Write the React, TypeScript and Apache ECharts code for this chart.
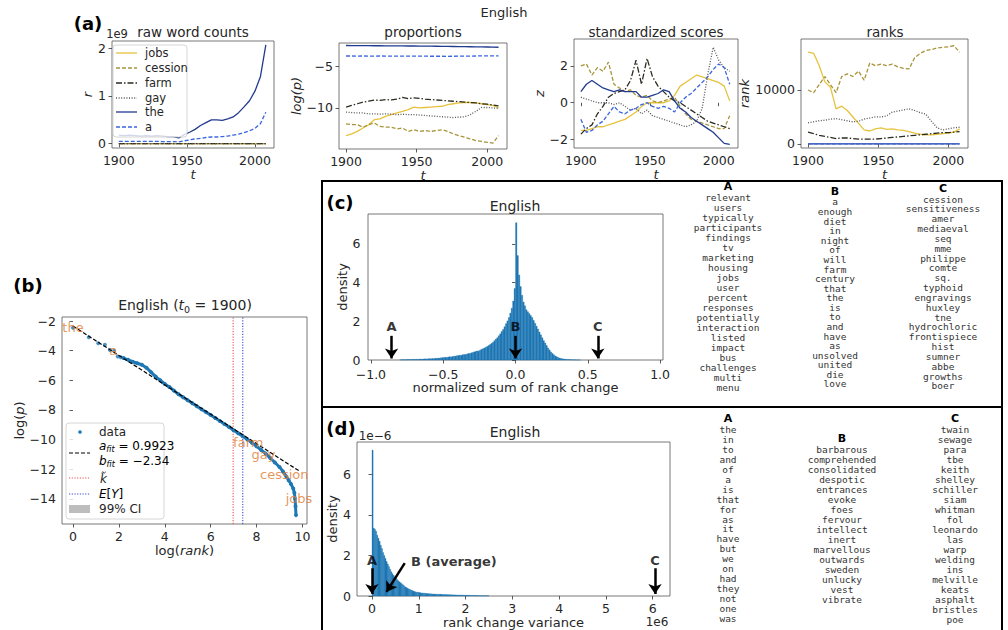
import React, { useEffect, useRef } from "react";
import * as echarts from "echarts";

const FONT = "DejaVu Sans";
const MONO = "DejaVu Sans Mono";

// ---------- (a) time series ----------
const YEARS = [1900,1904,1908,1912,1916,1920,1924,1928,1932,1936,1940,1944,1948,1952,1956,1960,1964,1968,1972,1976,1980,1984,1988,1992,1996,2000,2004,2008];
const WORDS = ["jobs", "cession", "farm", "gay", "the", "a"];

const RAW_JOBS = [0.000001,0.000001,0.000001,0.000002,0.000002,0.000003,0.000003,0.000004,0.000004,0.000005,0.000006,0.000006,0.00001,0.000013,0.000016,0.00002,0.000024,0.00003,0.000035,0.00004,0.000045,0.00005,0.00006,0.00007,0.00008,0.0001,0.00012,0.00018];
const RAW_CESSION = [0.000003,0.000003,0.000003,0.000003,0.000003,0.000004,0.000003,0.000003,0.000003,0.000003,0.000003,0.000002,0.000003,0.000004,0.000005,0.000005,0.000006,0.000007,0.000007,0.000006,0.000006,0.000006,0.000006,0.000007,0.000008,0.000009,0.00001,0.000024];
const RAW_FARM = [0.00009,0.0001,0.0001,0.00011,0.00011,0.00012,0.00012,0.00012,0.00011,0.00012,0.00013,0.0001,0.00016,0.0002,0.00024,0.00028,0.0003,0.00034,0.00033,0.00032,0.00033,0.00035,0.0004,0.00046,0.0005,0.0006,0.00075,0.0011];
const RAW_GAY = [0.00004,0.00004,0.00004,0.00004,0.00004,0.00004,0.00004,0.00004,0.00004,0.00004,0.00004,0.00003,0.00005,0.00006,0.00007,0.00008,0.00009,0.0001,0.0001,0.0001,0.00011,0.00013,0.00018,0.00026,0.00038,0.00045,0.00055,0.00085];
const RAW_THE = [0.18,0.17,0.18,0.17,0.16,0.17,0.16,0.17,0.16,0.15,0.15,0.12,0.19,0.24,0.30,0.38,0.44,0.50,0.50,0.49,0.52,0.56,0.65,0.77,0.90,1.10,1.40,2.07];
const RAW_A = [0.05,0.05,0.05,0.05,0.05,0.05,0.05,0.05,0.045,0.045,0.045,0.04,0.06,0.08,0.10,0.11,0.13,0.14,0.14,0.15,0.16,0.18,0.20,0.23,0.27,0.32,0.42,0.66];

const LOGP_JOBS = [-13.3,-13.1,-12.8,-12.4,-12.0,-11.4,-11.3,-11.0,-10.8,-10.6,-10.4,-10.2,-9.9,-10.0,-9.95,-9.9,-9.85,-9.8,-9.6,-9.5,-9.4,-9.35,-9.35,-9.4,-9.5,-9.6,-9.7,-10.0];
const LOGP_CESSION = [-11.9,-12.0,-12.0,-12.3,-12.0,-11.8,-12.2,-12.3,-12.3,-12.5,-12.4,-12.8,-12.6,-12.8,-12.7,-12.8,-12.7,-12.6,-12.8,-13.1,-13.3,-13.5,-13.7,-13.9,-14.0,-14.1,-14.2,-13.3];
const LOGP_FARM = [-9.9,-9.7,-9.5,-9.3,-9.2,-9.05,-9.1,-9.0,-9.05,-8.95,-8.75,-8.9,-8.8,-8.85,-8.95,-9.0,-9.05,-9.1,-9.15,-9.2,-9.25,-9.3,-9.35,-9.4,-9.5,-9.55,-9.65,-9.75];
const LOGP_GAY = [-10.5,-10.55,-10.6,-10.6,-10.7,-10.7,-10.75,-10.7,-10.75,-10.8,-10.75,-10.8,-10.8,-10.85,-10.9,-10.95,-11.0,-11.05,-11.1,-11.15,-11.1,-11.05,-10.8,-10.4,-9.95,-9.95,-10.0,-10.05];
const LOGP_THE = [-2.55,-2.56,-2.56,-2.57,-2.57,-2.58,-2.58,-2.59,-2.59,-2.6,-2.6,-2.61,-2.61,-2.62,-2.62,-2.63,-2.64,-2.65,-2.66,-2.67,-2.68,-2.69,-2.7,-2.71,-2.72,-2.73,-2.74,-2.76];
const LOGP_A = [-3.8,-3.8,-3.81,-3.8,-3.81,-3.81,-3.8,-3.81,-3.82,-3.81,-3.82,-3.82,-3.81,-3.82,-3.82,-3.83,-3.83,-3.83,-3.84,-3.83,-3.82,-3.82,-3.81,-3.8,-3.79,-3.79,-3.78,-3.78];

const Z_JOBS = [-1.5,-1.5,-1.4,-1.3,-1.3,-1.2,-1.1,-1.0,-0.9,-0.7,-0.5,-0.2,0.0,0.0,0.0,0.0,0.1,0.4,0.9,1.1,1.3,1.5,1.4,1.3,1.2,1.1,0.9,0.1];
const Z_CESSION = [2.0,2.1,1.5,1.9,1.7,2.2,1.0,0.8,0.6,0.7,0.4,0.3,0.4,0.1,0.0,0.1,0.2,0.3,-0.2,-0.6,-0.9,-1.0,-1.1,-1.2,-1.3,-1.4,-1.4,-0.7];
const Z_FARM = [-1.7,-1.4,-1.2,-0.6,-0.2,0.3,0.5,0.6,0.7,1.2,2.3,1.0,2.4,1.4,0.9,0.6,0.3,0.1,0.0,-0.2,-0.4,-0.6,-0.8,-1.0,-1.1,-1.2,-1.3,-1.4];
const Z_GAY = [0.3,0.2,0.1,0.0,0.0,0.0,-0.1,0.0,-0.2,-0.4,-0.3,-0.6,-0.4,-0.7,-0.8,-0.9,-1.0,-1.1,-1.2,-1.3,-1.2,-1.0,-0.3,1.5,3.0,2.3,1.9,1.7];
const Z_THE = [0.6,1.0,1.2,1.0,0.8,0.7,0.6,0.7,0.6,0.6,0.6,0.3,0.3,0.4,0.5,0.7,0.6,0.1,-0.3,-0.5,-0.8,-1.0,-1.2,-1.4,-1.6,-1.9,-2.2,-2.25];
const Z_A = [-0.9,-1.6,-1.5,-1.2,-1.0,-0.6,-0.2,-0.5,-0.6,-0.4,-0.3,-0.1,0.0,-0.2,-0.3,-0.2,-0.3,-0.5,0.0,0.3,0.5,0.8,1.1,1.4,1.8,2.1,1.9,1.0];

const RANK_JOBS = [17000,16800,14500,11500,10500,6500,7000,6200,5000,3800,2600,2400,2800,3000,2700,2800,2600,2500,2300,2000,1800,1700,1700,1800,1900,2000,2200,2800];
const RANK_CESSION = [10000,9500,11000,12500,11000,9500,12500,13000,12500,13500,11800,15000,14500,14800,14500,14800,14300,14000,13900,16000,16800,17300,17500,17800,17900,18000,18200,17000];
const RANK_FARM = [2200,1900,1600,1400,1200,1000,1100,1100,1000,900,900,900,900,1000,1100,1200,1300,1400,1500,1600,1700,1800,1900,2000,2100,2100,2200,2300];
const RANK_GAY = [3900,4100,4300,4400,4600,4700,4500,4300,4100,4200,4600,4800,5000,5000,5200,5900,6100,6300,6500,6200,5800,5500,4200,3000,2600,2800,3000,3100];
const RANK_THE = [1,1,1,1,1,1,1,1,1,1,1,1,1,1,1,1,1,1,1,1,1,1,1,1,1,1,1,1];
const RANK_A = [5,5,5,5,5,5,5,5,5,5,5,5,5,5,6,6,6,6,6,6,6,5,5,5,5,5,5,5];

// ---------- (b) Zipf ----------
const B_SPARSE = [[0,-2.45],[0.69,-3.1],[1.1,-3.5],[1.39,-3.6],[1.61,-3.95],[1.79,-4.0],[1.95,-4.4],[2.08,-4.45]];
const B_DENSE = [[2.2,-4.5],[2.4,-4.62],[2.6,-4.75],[2.8,-4.85],[3.0,-4.95],[3.2,-5.15],[3.4,-5.45],[3.6,-5.75],[3.8,-6.0],[4.0,-6.25],[4.2,-6.45],[4.4,-6.7],[4.6,-6.95],[4.8,-7.15],[5.0,-7.35],[5.2,-7.55],[5.4,-7.75],[5.6,-7.95],[5.8,-8.15],[6.0,-8.35],[6.2,-8.55],[6.4,-8.75],[6.6,-8.95],[6.8,-9.15],[7.0,-9.37],[7.2,-9.57],[7.4,-9.78],[7.6,-10.0],[7.8,-10.22],[8.0,-10.45],[8.2,-10.7],[8.4,-10.95],[8.6,-11.25],[8.8,-11.55],[9.0,-11.85],[9.15,-12.15],[9.3,-12.5],[9.4,-12.75],[9.5,-13.0],[9.6,-13.3],[9.65,-13.6],[9.68,-14.0],[9.7,-14.5],[9.72,-15.1]];
const B_FIT = [[0,-2.34],[9.85,-12.11]];
const K_TILDE = 6.98;
const E_Y = 7.4;
const B_Y_RANGE = [-15.7, -1.73];
const B_WORD_LABELS = [
  { name: "the", value: [0, -2.47] },
  { name: "a", value: [1.75, -3.96] },
  { name: "farm", value: [7.64, -10.18] },
  { name: "gay", value: [8.3, -10.99] },
  { name: "cession", value: [9.21, -12.34] },
  { name: "jobs", value: [9.85, -13.96] },
];

// ---------- (c) histogram ----------
const HIST_C_START = -0.8;
const HIST_C_WIDTH = 0.01;
const HIST_C = [
  0.01,0.01,0.02,0.01,0.02,0.02,0.03,0.02,0.03,0.03,
  0.03,0.04,0.03,0.04,0.05,0.04,0.05,0.06,0.05,0.06,
  0.07,0.06,0.08,0.07,0.09,0.08,0.10,0.09,0.11,0.12,
  0.13,0.14,0.13,0.15,0.17,0.16,0.18,0.19,0.20,0.22,
  0.23,0.25,0.24,0.27,0.29,0.28,0.31,0.34,0.33,0.37,
  0.39,0.42,0.44,0.47,0.46,0.51,0.55,0.58,0.62,0.66,
  0.70,0.75,0.80,0.86,0.92,1.00,1.08,1.15,1.25,1.35,
  1.48,1.58,1.72,1.88,2.02,2.20,2.42,2.68,3.05,3.70,
  7.10,5.40,4.40,3.80,3.35,3.00,2.80,2.60,2.50,2.40,
  2.30,2.20,2.05,1.90,1.75,1.60,1.45,1.30,1.15,1.00,
  0.88,0.75,0.62,0.52,0.42,0.34,0.27,0.21,0.17,0.13,
  0.10,0.08,0.06,0.05,0.04,0.03,0.025,0.02,0.015,0.012,
  0.010,0.008,0.006,0.005,0.004,
];
const C_MARKS = [
  { name: "A", x: -0.857 },
  { name: "B", x: 0.0 },
  { name: "C", x: 0.569 },
];

// ---------- (d) histogram ----------
const HIST_D_START = 0;
const HIST_D_WIDTH = 0.025;
const HIST_D = [
  7.2,3.35,3.3,3.2,3.0,2.85,2.7,2.5,2.35,2.15,
  2.0,1.85,1.7,1.58,1.45,1.32,1.2,1.1,1.02,0.94,
  0.87,0.81,0.75,0.70,0.65,0.60,0.55,0.50,0.45,0.42,
  0.38,0.35,0.32,0.29,0.27,0.24,0.22,0.20,0.19,0.18,
  0.17,0.16,0.15,0.145,0.14,0.13,0.125,0.12,0.115,0.11,
  0.105,0.10,0.097,0.094,0.09,0.088,0.085,0.083,0.081,0.08,
  0.078,0.075,0.072,0.07,0.067,0.064,0.062,0.06,0.058,0.055,
  0.053,0.051,0.049,0.047,0.045,0.044,0.043,0.042,0.041,0.04,
  0.038,0.036,0.034,0.032,0.03,0.028,0.026,0.024,0.022,0.02,
  0.019,0.018,0.016,0.015,0.014,0.013,0.012,0.011,0.01,0.009,
];
const D_MARKS = [
  { name: "A", x: 0.0 },
  { name: "C", x: 6.05 },
];
const D_B_LABEL = { name: "B (average)", value: [1.75, 1.68] };
const D_B_ARROW = [[0.7, 1.62], [0.31, 0.2]];

// ---------- word lists ----------
const C_LIST_A = ["relevant","users","typically","participants","findings","tv","marketing","housing","jobs","user","percent","responses","potentially","interaction","listed","impact","bus","challenges","multi","menu"];
const C_LIST_B = ["a","enough","diet","in","night","of","will","farm","century","that","the","is","to","and","have","as","unsolved","united","die","love"];
const C_LIST_C = ["cession","sensitiveness","amer","mediaeval","seq","mme","philippe","comte","sq.","typhoid","engravings","huxley","tne","hydrochloric","frontispiece","hist","sumner","abbe","growths","boer"];
const D_LIST_A = ["the","in","to","and","of","a","is","that","for","as","it","have","but","we","on","had","they","not","one","was"];
const D_LIST_B = ["barbarous","comprehended","consolidated","despotic","entrances","evoke","foes","fervour","intellect","inert","marvellous","outwards","sweden","unlucky","vest","vibrate"];
const D_LIST_C = ["twain","sewage","para","tbe","keith","shelley","schiller","siam","whitman","fol","leonardo","las","warp","welding","ins","melville","keats","asphalt","bristles","poe"];

// ---------- styles ----------
const LINE_STYLES: any[] = [
  { color: "#e6c23e", type: "solid" },
  { color: "#a8943a", type: [4, 2] },
  { color: "#2b2b20", type: [6, 2, 1.5, 2] },
  { color: "#555555", type: [1, 1.6] },
  { color: "#213a8f", type: "solid" },
  { color: "#3b66de", type: [4, 2] },
];
const BLUE = "#1f77b4";
const ORANGE = "#e07b30";
const TXT = "#262626";
const RED_DOT = "#e8504f";
const BLUE_DOT = "#3a48d0";

const fmt = (d: number) => (v: number) => v.toFixed(d).replace("-", "\u2212");

function axis(gridIndex: number, min: number, max: number, ticks: number[], f: (v: number) => string, name: string, nameGap: number, nameRich?: any, margin = 6) {
  return {
    type: "value",
    gridIndex, min, max,
    axisLine: { show: false },
    axisTick: { show: true, inside: false, length: 3.5, lineStyle: { color: "#333", width: 0.8 }, customValues: ticks },
    axisLabel: { customValues: ticks, formatter: f, color: TXT, fontFamily: FONT, fontSize: 12.5, margin },
    splitLine: { show: false },
    name, nameLocation: "middle", nameGap,
    nameTextStyle: { color: TXT, fontFamily: FONT, fontSize: 13, fontStyle: nameRich ? "normal" : "italic", rich: nameRich || {} },
  };
}

function gridBox(left: number, top: number, width: number, height: number) {
  return { left, top, width, height, show: true, borderColor: "#555", borderWidth: 0.8, backgroundColor: "transparent" };
}

function histSeries(xi: number, start: number, width: number, values: number[]) {
  return {
    type: "custom",
    xAxisIndex: xi, yAxisIndex: xi,
    data: values.map((v, i) => [start + i * width, v]),
    encode: { x: 0, y: 1 },
    renderItem: (params: any, api: any) => {
      const x0 = api.value(0);
      const h = api.value(1);
      const p0 = api.coord([x0, h]);
      const p1 = api.coord([x0 + width, 0]);
      return {
        type: "rect",
        shape: { x: p0[0], y: p0[1], width: Math.max(p1[0] - p0[0], 0.6), height: p1[1] - p0[1] },
        style: { fill: BLUE, stroke: BLUE, lineWidth: 0.3 },
      };
    },
    z: 2,
  };
}

function labelSeries(xi: number, data: any[], color: string, bold: boolean, fontSize: number) {
  return {
    type: "scatter",
    xAxisIndex: xi, yAxisIndex: xi,
    symbolSize: 1,
    itemStyle: { color: "rgba(0,0,0,0)" },
    data,
    label: { show: true, position: "inside", formatter: "{b}", color, fontFamily: FONT, fontWeight: bold ? "bold" : "normal", fontSize },
    z: 5,
  };
}

function arrowSeries(xi: number, pairs: number[][][]) {
  return {
    type: "line",
    xAxisIndex: xi, yAxisIndex: xi,
    data: [],
    markLine: {
      silent: true,
      symbol: ["none", "arrow"],
      symbolSize: 10,
      lineStyle: { color: "#000", width: 2.5, type: "solid" },
      itemStyle: { color: "#000" },
      label: { show: false },
      data: pairs.map((p) => [{ coord: p[0] }, { coord: p[1] }]),
    },
  };
}

function vlineSeries(xi: number, x: number, yRange: number[], color: string) {
  return {
    type: "line",
    xAxisIndex: xi, yAxisIndex: xi,
    data: [[x, yRange[0]], [x, yRange[1]]],
    symbol: "none",
    lineStyle: { color, width: 1.1, type: [1.2, 1.5] },
    z: 1,
  };
}

function textEl(text: string, x: number, y: number, opts: any = {}) {
  return {
    type: "text", x, y, z: 100,
    style: {
      text, fill: opts.fill || TXT, fontFamily: opts.fontFamily || FONT, fontSize: opts.fontSize || 13,
      fontWeight: opts.fontWeight || "normal", fontStyle: opts.fontStyle || "normal",
      align: opts.align || "center", verticalAlign: opts.verticalAlign || "middle",
      lineHeight: opts.lineHeight, rich: opts.rich,
    },
  };
}

function lineEl(x1: number, y1: number, x2: number, y2: number, stroke: string, lineWidth: number, lineDash?: number[]) {
  return { type: "line", z: 100, shape: { x1, y1, x2, y2 }, style: { stroke, lineWidth, lineDash } };
}

function listEl(words: string[], x: number, top: number, lh: number) {
  return {
    type: "text", x, y: top, z: 100,
    style: { text: words.join("\n"), fill: "#333", fontFamily: MONO, fontSize: 9.5, lineHeight: lh, align: "center", verticalAlign: "top" },
  };
}

function buildOption() {
  const panels = [
    [RAW_JOBS, RAW_CESSION, RAW_FARM, RAW_GAY, RAW_THE, RAW_A],
    [LOGP_JOBS, LOGP_CESSION, LOGP_FARM, LOGP_GAY, LOGP_THE, LOGP_A],
    [Z_JOBS, Z_CESSION, Z_FARM, Z_GAY, Z_THE, Z_A],
    [RANK_JOBS, RANK_CESSION, RANK_FARM, RANK_GAY, RANK_THE, RANK_A],
  ];
  const series: any[] = [];
  panels.forEach((arrs, g) => {
    arrs.forEach((arr, w) => {
      series.push({
        type: "line", name: WORDS[w], xAxisIndex: g, yAxisIndex: g,
        data: YEARS.map((yr, i) => [yr, arr[i]]),
        symbol: "none",
        lineStyle: { color: LINE_STYLES[w].color, width: 1.3, type: LINE_STYLES[w].type },
        z: 2,
      });
    });
  });

  // (b)
  series.push(vlineSeries(4, K_TILDE, B_Y_RANGE, RED_DOT));
  series.push(vlineSeries(4, E_Y, B_Y_RANGE, BLUE_DOT));
  series.push({
    type: "line", xAxisIndex: 4, yAxisIndex: 4, data: B_DENSE,
    symbol: "circle", symbolSize: 4, showSymbol: true,
    itemStyle: { color: BLUE }, lineStyle: { color: BLUE, width: 3 }, z: 2,
  });
  series.push({
    type: "scatter", xAxisIndex: 4, yAxisIndex: 4, data: B_SPARSE,
    symbolSize: 4, itemStyle: { color: BLUE }, z: 2,
  });
  series.push({
    type: "line", xAxisIndex: 4, yAxisIndex: 4, data: B_FIT, symbol: "none",
    lineStyle: { color: "#000", width: 1.2, type: [4, 2] }, z: 3,
  });
  series.push(labelSeries(4, B_WORD_LABELS, ORANGE, false, 13));

  // (c)
  series.push(histSeries(5, HIST_C_START, HIST_C_WIDTH, HIST_C));
  series.push(arrowSeries(5, C_MARKS.map((m) => [[m.x, 1.25], [m.x, 0.08]])));
  series.push(labelSeries(5, C_MARKS.map((m) => ({ name: m.name, value: [m.x, 1.74] })), "#000", true, 13));

  // (d)
  series.push(histSeries(6, HIST_D_START, HIST_D_WIDTH, HIST_D));
  series.push(arrowSeries(6, [...D_MARKS.map((m) => [[m.x, 1.37], [m.x, 0.1]]), D_B_ARROW]));
  series.push(labelSeries(6, [...D_MARKS.map((m) => ({ name: m.name, value: [m.x, 1.73] })), D_B_LABEL], "#000", true, 13));

  const yrTicks = [1900, 1950, 2000];
  const xMin = 1895, xMax = 2014;
  const italicRich = { i: { fontStyle: "italic", fontFamily: FONT, fontSize: 13, color: TXT } };

  const grid = [
    gridBox(112, 41, 162, 107),
    gridBox(339, 43, 168, 106),
    gridBox(574, 39, 164, 109),
    gridBox(801, 39, 167, 109),
    gridBox(62, 317, 245, 207),
    gridBox(368, 214, 295, 146),
    gridBox(357, 442, 313, 154),
  ];

  const xAxis = [
    axis(0, xMin, xMax, yrTicks, fmt(0), "t", 13),
    axis(1, xMin, xMax, yrTicks, fmt(0), "t", 13),
    axis(2, xMin, xMax, yrTicks, fmt(0), "t", 13),
    axis(3, xMin, xMax, yrTicks, fmt(0), "t", 13),
    axis(4, -0.48, 10.2, [0, 2, 4, 6, 8, 10], fmt(0), "log({i|rank})", 16, italicRich),
    axis(5, -1.02, 1.02, [-1, -0.5, 0, 0.5, 1], fmt(1), "normalized sum of rank change", 17, {}, 7.5),
    axis(6, -0.32, 6.37, [0, 1, 2, 3, 4, 5, 6], fmt(0), "rank change variance", 17, {}),
  ];
  const yAxis = [
    axis(0, -0.09, 2.15, [0, 1, 2], fmt(0), "r", 18),
    axis(1, -14.9, -2.25, [-10, -5], fmt(0), "log(p)", 24),
    axis(2, -2.45, 3.45, [-2, 0, 2], fmt(0), "z", 22),
    axis(3, -750, 19450, [0, 10000], fmt(0), "rank", 36),
    axis(4, B_Y_RANGE[0], B_Y_RANGE[1], [-14, -12, -10, -8, -6, -4, -2], fmt(0), "log({i|p})", 30, italicRich),
    axis(5, 0, 7.55, [0, 2, 4, 6], fmt(0), "density", 16, {}, 7.5),
    axis(6, 0, 7.6, [0, 2, 4, 6], fmt(0), "density", 16, {}),
  ];

  const subRich = {
    i: { fontStyle: "italic", fontFamily: FONT, fontSize: 12, color: TXT },
    s: { fontStyle: "italic", fontFamily: FONT, fontSize: 8, color: TXT, padding: [7, 0, 0, 0] },
    n: { fontFamily: FONT, fontSize: 12, color: TXT },
  };

  const graphic: any[] = [
    // figure title & panel labels
    textEl("English", 504, 12, { fontSize: 13 }),
    textEl("(a)", 88, 23, { fontSize: 18, fontWeight: "bold", fill: "#000" }),
    textEl("(b)", 28, 285, { fontSize: 18, fontWeight: "bold", fill: "#000" }),
    textEl("(c)", 340, 202, { fontSize: 18, fontWeight: "bold", fill: "#000" }),
    textEl("(d)", 341, 428, { fontSize: 18, fontWeight: "bold", fill: "#000" }),
    // (a) titles
    textEl("raw word counts", 193, 32, { fontSize: 13.5 }),
    textEl("proportions", 423, 32, { fontSize: 13.5 }),
    textEl("standardized scores", 656, 32, { fontSize: 13.5 }),
    textEl("ranks", 885, 32, { fontSize: 13.5 }),
    textEl("1e9", 117, 34, { fontSize: 11.5 }),
    // (a) legend
    { type: "rect", z: 99, shape: { x: 113, y: 45, width: 74, height: 92, r: 3 }, style: { fill: "rgba(255,255,255,0.8)", stroke: "#cccccc", lineWidth: 0.8 } },
    ...WORDS.flatMap((w, i) => {
      const y = [53, 68, 83, 98, 112, 127][i];
      const st = LINE_STYLES[i];
      return [
        lineEl(116, y, 137, y, st.color, 1.3, Array.isArray(st.type) ? st.type : undefined),
        textEl(w, 145, y, { fontSize: 11.5, align: "left" }),
      ];
    }),
    // (b) title
    {
      type: "text", x: 185, y: 305, z: 100,
      style: {
        text: "English ({t|t}{s|0} = 1900)", align: "center", verticalAlign: "middle", fill: TXT,
        fontFamily: FONT, fontSize: 14,
        rich: {
          t: { fontStyle: "italic", fontFamily: FONT, fontSize: 14, color: TXT },
          s: { fontFamily: FONT, fontSize: 9.5, color: TXT, padding: [8, 0, 0, 0] },
        },
      },
    },
    // (b) legend
    { type: "rect", z: 99, shape: { x: 66, y: 423, width: 98, height: 96, r: 3 }, style: { fill: "rgba(255,255,255,0.8)", stroke: "#cccccc", lineWidth: 0.8 } },
    { type: "circle", z: 100, shape: { cx: 80, cy: 432, r: 1.8 }, style: { fill: BLUE } },
    textEl("data", 99, 432, { fontSize: 12, align: "left" }),
    lineEl(69, 453, 90, 453, "#000", 1.2, [4, 2]),
    { type: "text", x: 99, y: 446, z: 100, style: { text: "{i|a}{s|fit}{n| = 0.9923}", align: "left", verticalAlign: "middle", rich: subRich } },
    { type: "text", x: 99, y: 461, z: 100, style: { text: "{i|b}{s|fit}{n| = \u22122.34}", align: "left", verticalAlign: "middle", rich: subRich } },
    lineEl(69, 478, 90, 478, RED_DOT, 1.1, [1.2, 1.5]),
    textEl("k", 100, 479, { fontSize: 12, align: "left", fontStyle: "italic" }),
    { type: "polyline", z: 100, shape: { points: [[101.5, 473], [102.8, 471.8], [104.4, 473], [105.8, 471.8]] }, style: { stroke: TXT, lineWidth: 0.9, fill: "none" } },
    lineEl(69, 494, 90, 494, BLUE_DOT, 1.1, [1.2, 1.5]),
    { type: "text", x: 99, y: 494, z: 100, style: { text: "{i|E}{n|[}{i|Y}{n|]}", align: "left", verticalAlign: "middle", rich: subRich } },
    { type: "rect", z: 100, shape: { x: 69, y: 505, width: 21, height: 8 }, style: { fill: "#bdbdbd" } },
    textEl("99% CI", 99, 509, { fontSize: 12, align: "left" }),
    // (c) (d) titles and offsets
    textEl("English", 515, 206, { fontSize: 14 }),
    textEl("English", 515, 432, { fontSize: 14 }),
    textEl("1e\u22126", 375, 436, { fontSize: 12 }),
    textEl("1e6", 657, 622, { fontSize: 12 }),
    // borders
    lineEl(322, 181, 1003, 181, "#000", 2),
    lineEl(322, 407, 1003, 407, "#000", 2),
    lineEl(322, 180, 322, 632, "#000", 2),
    lineEl(1002, 180, 1002, 632, "#000", 2),
    // word lists (c)
    textEl("A", 728, 186, { fontSize: 11, fontWeight: "bold", fill: "#000" }),
    textEl("B", 835, 191, { fontSize: 11, fontWeight: "bold", fill: "#000" }),
    textEl("C", 943, 188, { fontSize: 11, fontWeight: "bold", fill: "#000" }),
    listEl(C_LIST_A, 728, 193, 9.95),
    listEl(C_LIST_B, 835, 197.2, 9.58),
    listEl(C_LIST_C, 943, 194.1, 9.84),
    // word lists (d)
    textEl("A", 728, 418, { fontSize: 11, fontWeight: "bold", fill: "#000" }),
    textEl("B", 842, 438, { fontSize: 11, fontWeight: "bold", fill: "#000" }),
    textEl("C", 955, 418, { fontSize: 11, fontWeight: "bold", fill: "#000" }),
    listEl(D_LIST_A, 728, 425, 9.9),
    listEl(D_LIST_B, 842, 444, 10),
    listEl(D_LIST_C, 955, 424, 10),
  ];

  return {
    animation: false,
    backgroundColor: "#ffffff",
    textStyle: { fontFamily: FONT },
    grid, xAxis, yAxis, series, graphic,
  };
}

export default function App() {
  const ref = useRef<HTMLDivElement>(null);
  useEffect(() => {
    document.body.style.margin = "0";
    const chart = echarts.init(ref.current!, null, { renderer: "svg" });
    chart.setOption(buildOption() as any);
    return () => chart.dispose();
  }, []);
  return <div ref={ref} style={{ width: 1008, height: 630 }} />;
}
